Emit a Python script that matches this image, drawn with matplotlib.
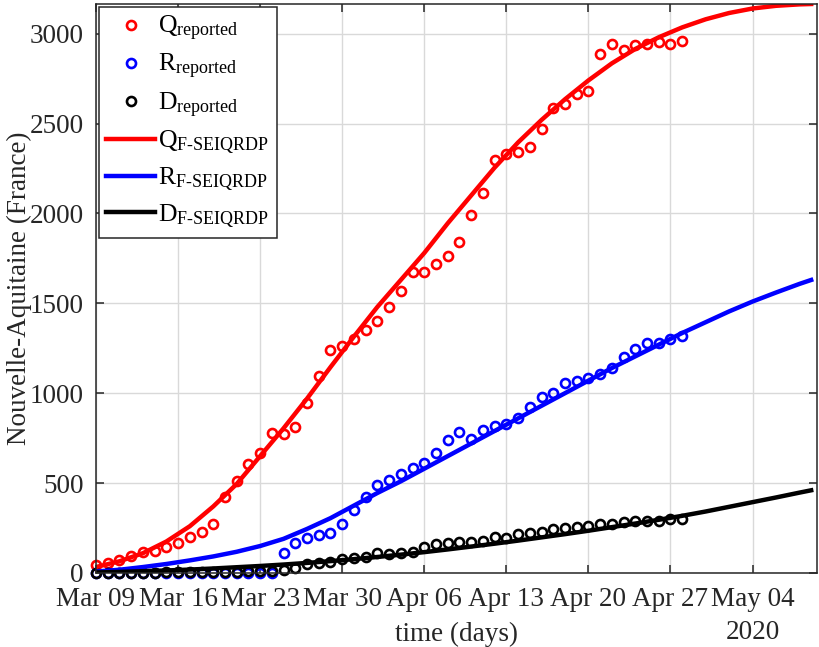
import numpy as np
import pandas as pd
import matplotlib
matplotlib.use('Agg')
import matplotlib.pyplot as plt
import matplotlib.dates as mdates
import matplotlib.transforms as mtransforms

plt.rcParams['font.family'] = ['Liberation Serif', 'DejaVu Serif']
plt.rcParams['mathtext.fontset'] = 'custom'
plt.rcParams['mathtext.rm'] = 'Liberation Serif'
plt.rcParams['mathtext.it'] = 'Liberation Serif:italic'

# reported data, one value per day from Mar 09 2020
report_start = '2020-03-09'
Q_reported = [44, 56, 72, 94, 117, 122, 144, 167, 200, 228,
              272, 422, 511, 606, 667, 778, 772, 811, 944, 1094,
              1239, 1261, 1300, 1350, 1400, 1478, 1567, 1672, 1672, 1717,
              1761, 1839, 1994, 2111, 2300, 2333, 2344, 2367, 2467, 2589,
              2611, 2667, 2683, 2889, 2944, 2911, 2939, 2944, 2956, 2944,
              2961]
R_reported = [2, 2, 2, 2, 2, 2, 2, 2, 2, 2,
              2, 2, 2, 2, 2, 2, 111, 167, 194, 211,
              222, 272, 350, 422, 489, 517, 550, 583, 611, 667,
              739, 783, 744, 794, 817, 828, 861, 922, 978, 1000,
              1056, 1067, 1083, 1106, 1139, 1200, 1244, 1278, 1278, 1300,
              1317]
D_reported = [0, 0, 1, 1, 2, 2, 3, 3, 4, 5,
              6, 7, 8, 9, 10, 12, 17, 28, 50, 56,
              61, 78, 83, 89, 111, 106, 111, 117, 144, 161,
              167, 172, 172, 178, 200, 197, 216, 222, 230, 247,
              253, 256, 261, 272, 272, 283, 289, 289, 289, 300,
              300]

# fitted model curves (F-SEIQRDP), read every 2 days
model_dates = ['2020-03-09', '2020-03-11', '2020-03-13', '2020-03-15', '2020-03-17',
               '2020-03-19', '2020-03-21', '2020-03-23', '2020-03-25', '2020-03-27',
               '2020-03-29', '2020-03-31', '2020-04-02', '2020-04-04', '2020-04-06',
               '2020-04-08', '2020-04-10', '2020-04-12', '2020-04-14', '2020-04-16',
               '2020-04-18', '2020-04-20', '2020-04-22', '2020-04-24', '2020-04-26',
               '2020-04-28', '2020-04-30', '2020-05-02', '2020-05-04', '2020-05-06',
               '2020-05-08', '2020-05-09']
Q_model = [33, 65, 110, 175, 260, 370, 495, 650, 805, 970,
           1145, 1315, 1480, 1630, 1780, 1945, 2100, 2255, 2395, 2520,
           2635, 2740, 2835, 2915, 2980, 3035, 3080, 3115, 3140, 3155,
           3163, 3165]
R_model = [8, 18, 33, 50, 70, 92, 118, 150, 190, 245,
           305, 375, 445, 510, 580, 650, 720, 790, 860, 930,
           1000, 1070, 1140, 1205, 1270, 1335, 1395, 1455, 1510, 1560,
           1608, 1630]
D_model = [3, 6, 10, 14, 19, 25, 32, 39, 47, 56,
           66, 77, 89, 102, 116, 131, 147, 163, 180, 198,
           216, 235, 255, 275, 296, 318, 342, 368, 394, 420,
           447, 460]

xtick_dates = ['2020-03-09', '2020-03-16', '2020-03-23', '2020-03-30', '2020-04-06',
               '2020-04-13', '2020-04-20', '2020-04-27', '2020-05-04']

t_rep = pd.date_range(report_start, periods=len(Q_reported), freq='D')
t_mod = pd.to_datetime(model_dates)

fig = plt.figure(figsize=(8.19, 6.47), dpi=100)
ax = fig.add_axes([0.1172, 0.1144, 0.8804, 0.8794])

fs = 19.5
mk = dict(marker='o', ls='none', mfc='none', ms=6.5, mew=1.9, clip_on=False)
p1, = ax.plot(t_rep, Q_reported, color='red', **mk)
p2, = ax.plot(t_rep, R_reported, color='blue', **mk)
p3, = ax.plot(t_rep, D_reported, color='black', **mk)
l1, = ax.plot(t_mod, Q_model, color='red', lw=3.2)
l2, = ax.plot(t_mod, R_model, color='blue', lw=3.2)
l3, = ax.plot(t_mod, D_model, color='black', lw=3.2)

ax.set_xlim(pd.Timestamp('2020-03-09'), pd.Timestamp('2020-05-09 12:00'))
ax.set_ylim(0, 3165)
ax.set_xticks(pd.to_datetime(xtick_dates))
ax.xaxis.set_major_formatter(mdates.DateFormatter('%b %d'))
ax.set_yticks([0, 500, 1000, 1500, 2000, 2500, 3000])

ax.grid(True, color='0.85', lw=1)
ax.set_axisbelow(True)
for s in ax.spines.values():
    s.set_color('0.15')
    s.set_linewidth(1.1)
ax.tick_params(direction='in', length=6, width=1.1, color='0.15',
               labelsize=fs, labelcolor='0.15', top=True, right=True)
ax.tick_params(axis='x', pad=10)
ax.tick_params(axis='y', pad=9)

ax.set_xlabel('time (days)', fontsize=fs, color='0.15', labelpad=7)
ax.set_ylabel('Nouvelle-Aquitaine (France)', fontsize=fs, color='0.15', labelpad=-2)

trans = mtransforms.blended_transform_factory(ax.transData, ax.transAxes)
ax.text(mdates.date2num(pd.Timestamp('2020-05-04')), -0.104, '2020', transform=trans,
        ha='center', va='center', fontsize=fs, color='0.15')

labels = [r'Q$_{\mathrm{reported}}$', r'R$_{\mathrm{reported}}$', r'D$_{\mathrm{reported}}$',
          r'Q$_{\text{F-SEIQRDP}}$', r'R$_{\text{F-SEIQRDP}}$', r'D$_{\text{F-SEIQRDP}}$']
leg = ax.legend([p1, p2, p3, l1, l2, l3], labels, loc='upper left', fontsize=18.5,
                borderaxespad=0.1, frameon=True, fancybox=False, framealpha=1,
                handlelength=1.9, handletextpad=0.1, borderpad=0.3, labelspacing=0.35)
leg.get_frame().set_edgecolor('0.15')
leg.get_frame().set_linewidth(1.1)

fig.savefig('out.png', dpi=100)
